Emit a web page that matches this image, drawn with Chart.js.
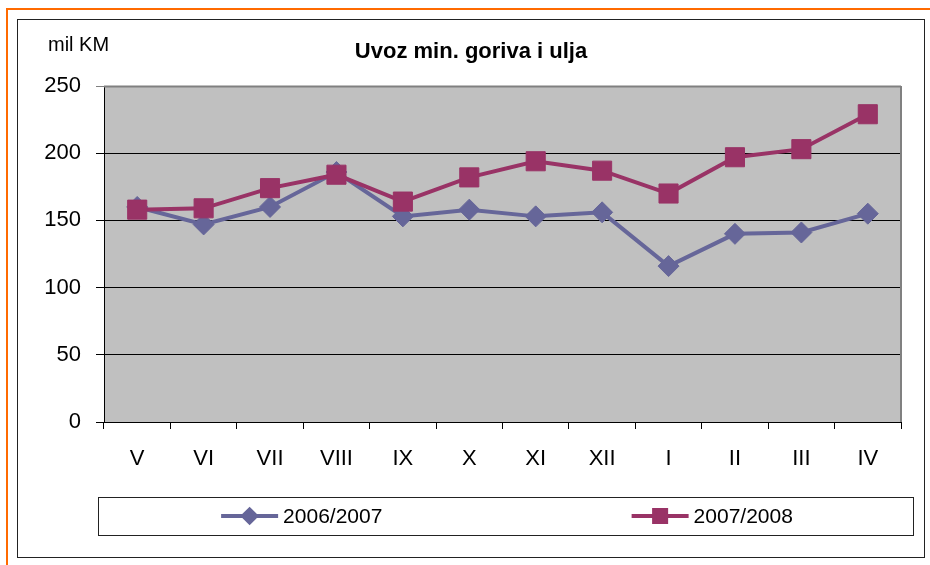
<!DOCTYPE html>
<html>
<head>
<meta charset="utf-8">
<script src="https://cdn.jsdelivr.net/npm/chart.js@4/dist/chart.umd.min.js"></script>
<style>
    html, body { margin: 0; padding: 0; background: #fff; }
    #wrap { width: 930px; height: 565px; }
</style>
</head>
<body>
<div id="wrap"><canvas id="importChart" width="930" height="565"></canvas></div>
<script>
(function () {
    "use strict";

    // Data (mil KM)
    const categories = ["V", "VI", "VII", "VIII", "IX", "X", "XI", "XII", "I", "II", "III", "IV"];
    const imports0607 = [160, 147, 160, 186, 153, 158, 153, 156, 116, 140, 141, 155];
    const imports0708 = [158, 159, 174, 184, 164, 182, 194, 187, 170, 197, 203, 229];
    const seriesNames = ["2006/2007", "2007/2008"];
    const yTicks = [0, 50, 100, 150, 200, 250];
    const titleText = "Uvoz min. goriva i ulja";
    const unitText = "mil KM";

    const FONT = "'Liberation Sans', Arial, sans-serif";
    Chart.defaults.font.family = FONT;
    Chart.defaults.color = "#000";

    // Frame, plot background, title, unit label, legend box
    const decor = {
        id: "decor",
        beforeDraw(chart) {
            const ctx = chart.ctx;
            const a = chart.chartArea;
            ctx.save();
            ctx.fillStyle = "#fff";
            ctx.fillRect(0, 0, chart.width, chart.height);

            // orange outer frame
            ctx.fillStyle = "#FF6A00";
            ctx.fillRect(6, 8, chart.width - 6, 2);
            ctx.fillRect(6, 8, 2, chart.height - 8);

            // inner chart border
            ctx.strokeStyle = "#222";
            ctx.lineWidth = 1;
            ctx.strokeRect(17.5, 19.5, 907, 538);

            // plot area
            ctx.fillStyle = "#C0C0C0";
            ctx.fillRect(a.left, a.top, a.right - a.left, a.bottom - a.top);

            // texts
            ctx.fillStyle = "#000";
            ctx.font = "bold 22px " + FONT;
            ctx.textAlign = "center";
            ctx.textBaseline = "alphabetic";
            ctx.fillText(titleText, 471, 58);
            ctx.font = "20px " + FONT;
            ctx.textAlign = "left";
            ctx.fillText(unitText, 48, 51);
            ctx.restore();
        },
        beforeDatasetsDraw(chart) {
            const ctx = chart.ctx;
            const a = chart.chartArea;
            ctx.save();
            ctx.strokeStyle = "#808080";
            ctx.lineWidth = 2;
            ctx.beginPath();
            ctx.moveTo(a.left, a.top + 0.5);
            ctx.lineTo(a.right, a.top + 0.5);
            ctx.moveTo(a.right, a.top);
            ctx.lineTo(a.right, a.bottom);
            ctx.stroke();
            ctx.restore();
        },
        afterDraw(chart) {
            const ctx = chart.ctx;
            const box = { left: 98, top: 497, width: 815, height: 38 };
            ctx.save();
            ctx.strokeStyle = "#222";
            ctx.lineWidth = 1;
            ctx.strokeRect(box.left + 0.5, box.top + 0.5, box.width, box.height);

            ctx.font = "21px " + FONT;
            ctx.textBaseline = "middle";
            ctx.textAlign = "left";
            const sets = chart.data.datasets;
            const cy = box.top + box.height / 2;
            sets.forEach((ds, i) => {
                const lineLen = 57;
                const gap = 5;
                const tw = ctx.measureText(ds.label).width;
                const cx = box.left + box.width * (i + 0.5) / sets.length + i * 3;
                const x0 = cx - (lineLen + gap + tw) / 2;
                ctx.strokeStyle = ds.borderColor;
                ctx.lineWidth = 4;
                ctx.beginPath();
                ctx.moveTo(x0, cy);
                ctx.lineTo(x0 + lineLen, cy);
                ctx.stroke();
                ctx.fillStyle = ds.pointBackgroundColor;
                ctx.strokeStyle = ds.pointBorderColor;
                Chart.helpers.drawPoint(ctx, {
                    pointStyle: ds.pointStyle,
                    radius: ds.legendRadius,
                    borderWidth: 1,
                    rotation: 0,
                }, x0 + lineLen / 2, cy);
                ctx.fillStyle = "#000";
                ctx.fillText(ds.label, x0 + lineLen + gap, cy + 1);
            });
            ctx.restore();
        },
    };

    const ctx = document.getElementById("importChart").getContext("2d");

    new Chart(ctx, {
        type: "line",
        data: {
            labels: categories,
            datasets: [
                {
                    label: seriesNames[0],
                    data: imports0607,
                    order: 1,
                    borderColor: "#666699",
                    borderWidth: 4,
                    pointStyle: "rectRot",
                    pointRadius: 10.5,
                    pointBorderWidth: 1,
                    pointBackgroundColor: "#666699",
                    pointBorderColor: "#666699",
                    legendRadius: 6.5,
                    tension: 0,
                    fill: false,
                },
                {
                    label: seriesNames[1],
                    data: imports0708,
                    order: 0,
                    borderColor: "#993366",
                    borderWidth: 4,
                    pointStyle: "rect",
                    pointRadius: 13.5,
                    pointBorderWidth: 1,
                    pointBackgroundColor: "#993366",
                    pointBorderColor: "#993366",
                    legendRadius: 8.5,
                    tension: 0,
                    fill: false,
                },
            ],
        },
        options: {
            responsive: false,
            animation: false,
            devicePixelRatio: 1,
            layout: {
                padding: { left: 0, top: 86, right: 29, bottom: 0 },
            },
            plugins: {
                legend: { display: false },
                title: { display: false },
                tooltip: { enabled: false },
            },
            scales: {
                x: {
                    offset: true,
                    grid: {
                        offset: true,
                        drawOnChartArea: false,
                        drawTicks: true,
                        tickLength: 7,
                        color: "#000",
                    },
                    border: { color: "#000", width: 1 },
                    ticks: {
                        font: { size: 22 },
                        color: "#000",
                        padding: 17,
                        maxRotation: 0,
                        autoSkip: false,
                    },
                    afterFit: (scale) => {
                        scale.height = 143;
                    },
                },
                y: {
                    min: 0,
                    max: 250,
                    afterBuildTicks: (scale) => {
                        scale.ticks = yTicks.map((v) => ({ value: v }));
                    },
                    grid: {
                        tickLength: 8,
                        color: (c) => (c.tick && c.tick.value === 250 ? "#808080" : "#000"),
                    },
                    border: { color: "#000", width: 1 },
                    ticks: {
                        font: { size: 22 },
                        color: "#000",
                        padding: 15,
                    },
                    afterFit: (scale) => {
                        scale.width = 104;
                    },
                },
            },
        },
        plugins: [decor],
    });
})();
</script>
</body>
</html>
